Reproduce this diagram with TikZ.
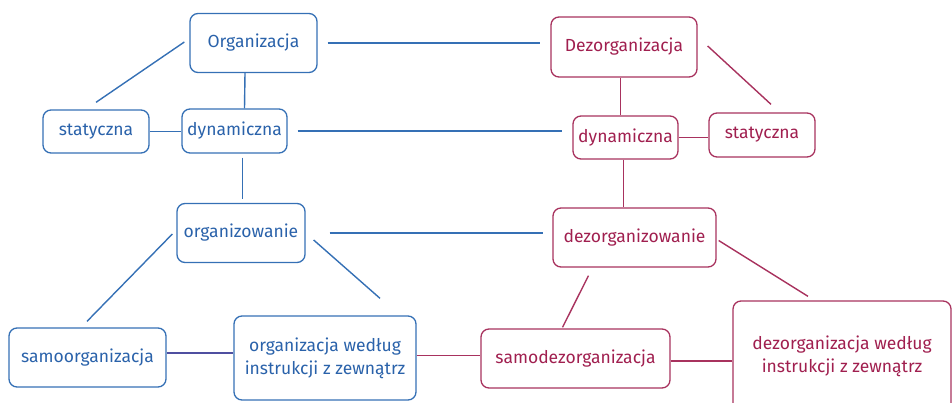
\documentclass[tikz,border=0pt]{standalone}
\usepackage{fontspec}
\setmainfont{Fira Sans}
\usetikzlibrary{calc}
\definecolor{orgblue}{HTML}{3570B5}
\definecolor{orgbluetext}{HTML}{2A62AA}
\definecolor{dezred}{HTML}{A8325E}
\definecolor{dezredtext}{HTML}{A01F4F}
\definecolor{mixline}{HTML}{4F4FA0}
\tikzset{
  box/.style={draw, rounded corners=8pt, line width=1.3pt, inner sep=0pt,
    align=center, font=\fontsize{17.5}{23}\selectfont},
  bluebox/.style={box, draw=orgblue, text=orgbluetext},
  redbox/.style={box, draw=dezred, text=dezredtext},
  blueline/.style={draw=orgblue, line width=1.4pt},
  redline/.style={draw=dezred, line width=1.4pt},
  bridge/.style={draw=orgblue, line width=2pt},
}
\begin{document}
\begin{tikzpicture}[x=1pt, y=-1pt]
\path[use as bounding box] (0,0) rectangle (952,403);
\clip (0,0) rectangle (952,403);

% organisation side
\node[bluebox, minimum width=127pt, minimum height=59pt] (org) at (253.5,43) {Organizacja};
\node[bluebox, minimum width=106pt, minimum height=43pt] (statL) at (96,131.5) {statyczna};
\node[bluebox, minimum width=105pt, minimum height=44pt] (dynL) at (234.5,131) {dynamiczna};
\node[bluebox, minimum width=128pt, minimum height=59pt] (orgw) at (241,233) {organizowanie};
\node[bluebox, minimum width=157pt, minimum height=59pt] (samo) at (87.5,357.5) {samoorganizacja};
\node[bluebox, minimum width=182pt, minimum height=84pt] (orgzew) at (325,358) {organizacja według\\instrukcji z zewnątrz};

% disorganisation side
\node[redbox, minimum width=146pt, minimum height=60pt] (dez) at (624,47) {Dezorganizacja};
\node[redbox, minimum width=105pt, minimum height=43pt] (dynR) at (625.5,137.5) {dynamiczna};
\node[redbox, minimum width=106pt, minimum height=44pt] (statR) at (762,135) {statyczna};
\node[redbox, minimum width=163pt, minimum height=59pt] (dezw) at (634.5,237.5) {dezorganizowanie};
\node[redbox, minimum width=189pt, minimum height=59pt] (samodez) at (575.5,358.5) {samodezorganizacja};
\node[redbox, minimum width=218pt, minimum height=110pt] (dezzew) at (842,356) {dezorganizacja według\\instrukcji z zewnątrz};

% links inside the organisation tree
\draw[blueline] ($(org.west)+(-5,-1)$) -- ($(statL.north)+(0,-7)$);
\draw[blueline] ($(org.south)+(-8.5,0)$) -- ($(dynL.north)+(10,0)$);
\draw[blueline] (statL.east) -- (statL.east -| dynL.west);
\draw[blueline] ($(dynL.south)+(8,4)$) -- ($(orgw.north)+(1.5,-4)$);
\draw[blueline] ($(orgw.west)+(-4,1)$) -- ($(samo.north)+(-0.5,-6)$);
\draw[blueline] ($(orgw.east)+(8,7)$) -- ($(orgzew.north)+(55,-17)$);
\draw[draw=mixline, line width=1.5pt] ($(samo.east)+(0,-4.5)$) -- ($(samo.east -| orgzew.west)+(0,-4.5)$);

% links across the two sides
\draw[bridge] ($(org.east)+(10,0)$) -- ($(org.east -| dez.west)+(-10,0)$);
\draw[bridge] ($(dynL.east)+(10,0)$) -- ($(dynL.east -| dynR.west)+(-10,0)$);
\draw[bridge] ($(orgw.east)+(24,0)$) -- ($(orgw.east -| dezw.west)+(-9,0)$);
\draw[redline, line width=1.5pt] ($(orgzew.east)+(0,-2.5)$) -- ($(orgzew.east -| samodez.west)+(0,-2.5)$);

% links inside the disorganisation tree
\draw[redline] ($(dez.south)+(-3.5,0)$) -- ($(dez.south |- dynR.north)+(-3.5,0)$);
\draw[redline] ($(dez.east)+(10,-1)$) -- ($(statR.north)+(9,-8)$);
\draw[redline] (dynR.east) -- (dynR.east -| statR.west);
\draw[redline] ($(dynR.south)+(-2,0)$) -- ($(dynR.south |- dezw.north)+(-2,0)$);
\draw[redline] ($(dezw.south)+(-46,8)$) -- ($(samodez.north)+(-13,-1)$);
\draw[redline] ($(dezw.east)+(2,3)$) -- ($(dezzew.north)+(-34,-4)$);
\draw[redline] ($(samodez.east)+(0,2.5)$) -- ($(samodez.east -| dezzew.west)+(0,2.5)$);
\end{tikzpicture}
\end{document}
